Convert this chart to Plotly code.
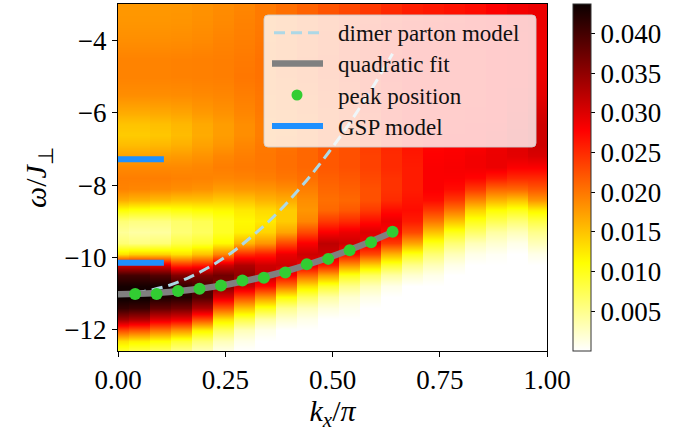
import plotly.graph_objects as go

# ---------------- data ----------------
omega_rows = [-12.6, -12.3, -12.0, -11.7, -11.4, -11.1, -10.8, -10.5, -10.2, -9.9,
              -9.6, -9.3, -9.0, -8.7, -8.4, -8.1, -7.8, -7.5, -7.2, -6.9,
              -6.6, -6.3, -6.0, -5.5, -5.0, -4.5, -4.0, -3.5, -3.0]

kx_columns = [0.0, 0.049, 0.098, 0.147, 0.196, 0.245, 0.294, 0.343, 0.392, 0.441,
              0.49, 0.539, 0.588, 0.637, 0.686, 0.735, 0.784, 0.833, 0.882, 0.931, 0.98]
column_half_width = 0.0245

# spectral weight per kx column, listed along omega_rows (bottom -> top)
col_00 = [0.009, 0.013, 0.023, 0.034, 0.041, 0.0437, 0.043, 0.040, 0.031, 0.013, 0.006, 0.0045, 0.006, 0.011, 0.0165, 0.0192, 0.0195, 0.0188, 0.0172, 0.0155, 0.0145, 0.015, 0.0165, 0.0185, 0.0192, 0.0192, 0.0185, 0.018, 0.0178]
col_01 = [0.008, 0.012, 0.022, 0.033, 0.0405, 0.0437, 0.043, 0.040, 0.031, 0.014, 0.0055, 0.004, 0.0055, 0.0105, 0.016, 0.019, 0.0195, 0.0188, 0.0172, 0.0155, 0.0145, 0.015, 0.0165, 0.0185, 0.0192, 0.0192, 0.0185, 0.018, 0.0178]
col_02 = [0.007, 0.011, 0.020, 0.030, 0.038, 0.0425, 0.043, 0.039, 0.030, 0.014, 0.006, 0.0042, 0.0055, 0.010, 0.0155, 0.0188, 0.0195, 0.0188, 0.0175, 0.0158, 0.0148, 0.0153, 0.0167, 0.0185, 0.0192, 0.0192, 0.0185, 0.018, 0.0178]
col_03 = [0.005, 0.009, 0.018, 0.029, 0.037, 0.042, 0.041, 0.036, 0.025, 0.013, 0.008, 0.006, 0.0065, 0.0105, 0.015, 0.0185, 0.0193, 0.0188, 0.0177, 0.0163, 0.0155, 0.0158, 0.017, 0.0186, 0.0193, 0.0193, 0.0186, 0.0181, 0.0179]
col_04 = [0.003, 0.006, 0.012, 0.023, 0.033, 0.039, 0.040, 0.036, 0.026, 0.015, 0.009, 0.007, 0.0075, 0.011, 0.015, 0.0182, 0.0192, 0.019, 0.0182, 0.0172, 0.0166, 0.0167, 0.0177, 0.0188, 0.0194, 0.0194, 0.0188, 0.0184, 0.0182]
col_05 = [0.001, 0.003, 0.007, 0.013, 0.022, 0.030, 0.036, 0.037, 0.031, 0.019, 0.0115, 0.0095, 0.0095, 0.0115, 0.0145, 0.0175, 0.019, 0.0195, 0.019, 0.018, 0.0175, 0.0175, 0.0182, 0.019, 0.0195, 0.0195, 0.0192, 0.0188, 0.0186]
col_06 = [0.0, 0.001, 0.003, 0.008, 0.015, 0.023, 0.031, 0.035, 0.033, 0.025, 0.016, 0.012, 0.0115, 0.0125, 0.015, 0.0178, 0.0192, 0.0198, 0.0195, 0.019, 0.0185, 0.0185, 0.019, 0.0195, 0.020, 0.0198, 0.0195, 0.0193, 0.019]
col_07 = [0.0, 0.0, 0.001, 0.004, 0.010, 0.018, 0.027, 0.032, 0.031, 0.026, 0.018, 0.014, 0.0125, 0.0135, 0.016, 0.018, 0.0195, 0.020, 0.020, 0.0198, 0.0195, 0.0195, 0.0198, 0.020, 0.0203, 0.0203, 0.020, 0.0198, 0.0198]
col_08 = [0.0, 0.0, 0.0, 0.002, 0.005, 0.011, 0.020, 0.028, 0.031, 0.029, 0.023, 0.017, 0.0145, 0.0145, 0.0165, 0.0185, 0.020, 0.0205, 0.0205, 0.0203, 0.020, 0.020, 0.0203, 0.0205, 0.021, 0.021, 0.0208, 0.0205, 0.0205]
col_09 = [0.0, 0.0, 0.0, 0.001, 0.003, 0.007, 0.013, 0.021, 0.029, 0.031, 0.028, 0.023, 0.019, 0.018, 0.0185, 0.0195, 0.0205, 0.021, 0.021, 0.021, 0.0208, 0.0208, 0.021, 0.0213, 0.0218, 0.022, 0.0218, 0.0215, 0.0213]
col_10 = [0.0, 0.0, 0.0, 0.0, 0.0015, 0.004, 0.009, 0.017, 0.026, 0.031, 0.032, 0.028, 0.024, 0.021, 0.0205, 0.021, 0.0215, 0.022, 0.022, 0.022, 0.022, 0.022, 0.0222, 0.0225, 0.023, 0.023, 0.0228, 0.0225, 0.0222]
col_11 = [0.0, 0.0, 0.0, 0.0, 0.0008, 0.002, 0.005, 0.010, 0.018, 0.027, 0.031, 0.029, 0.025, 0.022, 0.021, 0.0215, 0.022, 0.0225, 0.0225, 0.0225, 0.0228, 0.023, 0.0232, 0.0235, 0.024, 0.024, 0.024, 0.0235, 0.023]
col_12 = [0.0, 0.0, 0.0, 0.0, 0.0, 0.001, 0.003, 0.007, 0.014, 0.023, 0.029, 0.030, 0.027, 0.024, 0.0225, 0.0225, 0.023, 0.0235, 0.0235, 0.0238, 0.024, 0.0242, 0.0245, 0.0248, 0.025, 0.025, 0.025, 0.0245, 0.024]
col_13 = [0.0, 0.0, 0.0, 0.0, 0.0, 0.0, 0.001, 0.004, 0.009, 0.016, 0.024, 0.028, 0.029, 0.027, 0.025, 0.0245, 0.0245, 0.025, 0.025, 0.0252, 0.0255, 0.0258, 0.026, 0.026, 0.0262, 0.0262, 0.026, 0.0255, 0.025]
col_14 = [0.0, 0.0, 0.0, 0.0, 0.0, 0.0, 0.0, 0.002, 0.005, 0.010, 0.017, 0.023, 0.026, 0.027, 0.0265, 0.026, 0.026, 0.026, 0.0262, 0.0265, 0.0268, 0.027, 0.027, 0.027, 0.027, 0.027, 0.0268, 0.0262, 0.0258]
col_15 = [0.0, 0.0, 0.0, 0.0, 0.0, 0.0, 0.0, 0.001, 0.003, 0.006, 0.010, 0.015, 0.020, 0.024, 0.027, 0.028, 0.028, 0.028, 0.0278, 0.0275, 0.0272, 0.027, 0.027, 0.027, 0.027, 0.027, 0.0268, 0.0265, 0.0262]
col_16 = [0.0, 0.0, 0.0, 0.0, 0.0, 0.0, 0.0, 0.0, 0.001, 0.003, 0.006, 0.010, 0.015, 0.020, 0.024, 0.027, 0.028, 0.0282, 0.028, 0.0278, 0.0275, 0.0272, 0.027, 0.027, 0.027, 0.027, 0.027, 0.0268, 0.0266]
col_17 = [0.0, 0.0, 0.0, 0.0, 0.0, 0.0, 0.0, 0.0, 0.0, 0.001, 0.003, 0.0065, 0.010, 0.014, 0.019, 0.024, 0.0275, 0.0285, 0.0285, 0.028, 0.0278, 0.0275, 0.0272, 0.027, 0.027, 0.027, 0.0272, 0.0272, 0.027]
col_18 = [0.0, 0.0, 0.0, 0.0, 0.0, 0.0, 0.0, 0.0, 0.0, 0.0005, 0.002, 0.004, 0.0075, 0.011, 0.016, 0.021, 0.026, 0.029, 0.029, 0.0288, 0.0285, 0.028, 0.0278, 0.0275, 0.0275, 0.0275, 0.0277, 0.0278, 0.0278]
col_19 = [0.0, 0.0, 0.0, 0.0, 0.0, 0.0, 0.0, 0.0, 0.0, 0.0, 0.001, 0.003, 0.006, 0.010, 0.015, 0.021, 0.025, 0.028, 0.0295, 0.0298, 0.0298, 0.0295, 0.029, 0.0285, 0.028, 0.028, 0.0282, 0.0284, 0.0285]
col_20 = [0.0, 0.0, 0.0, 0.0, 0.0, 0.0, 0.0, 0.0, 0.0, 0.001, 0.003, 0.005, 0.008, 0.012, 0.018, 0.022, 0.025, 0.028, 0.0302, 0.031, 0.031, 0.031, 0.0305, 0.0295, 0.029, 0.0288, 0.0288, 0.029, 0.029]

spectral_columns = [col_00, col_01, col_02, col_03, col_04, col_05, col_06, col_07, col_08, col_09,
                    col_10, col_11, col_12, col_13, col_14, col_15, col_16, col_17, col_18, col_19, col_20]

# dimer parton model (dashed curve)
dimer_k = [0.0, 0.06, 0.12, 0.17, 0.225, 0.27, 0.31, 0.35, 0.39, 0.42, 0.45, 0.49, 0.54, 0.59, 0.64]
dimer_w = [-11.0, -10.94, -10.77, -10.53, -10.18, -9.82, -9.44, -9.02, -8.54, -8.14, -7.72, -7.11, -6.28, -5.36, -4.36]

# quadratic fit (grey curve)
fit_k = [0.0, 0.08, 0.16, 0.24, 0.32, 0.40, 0.48, 0.56, 0.64]
fit_w = [-11.02, -10.99, -10.91, -10.78, -10.59, -10.35, -10.05, -9.70, -9.30]

# peak positions (green dots)
peak_k = [0.04, 0.09, 0.14, 0.19, 0.24, 0.29, 0.34, 0.39, 0.44, 0.49, 0.54, 0.59, 0.64]
peak_w = [-11.01, -11.01, -10.93, -10.87, -10.78, -10.64, -10.56, -10.42, -10.19, -10.04, -9.80, -9.58, -9.29]

# GSP model levels
gsp_k = [0.0, 0.107]
gsp_levels = [-7.28, -10.15]

cbar_ticks = [0.005, 0.010, 0.015, 0.020, 0.025, 0.030, 0.035, 0.040]
z_min, z_max = 0.0, 0.0437

# ---------------- build figure ----------------
eps = 1e-4
hx, hz_cols = [], []
for k, col in zip(kx_columns, spectral_columns):
    hx += [k - column_half_width + eps, k + column_half_width - eps]
    hz_cols += [col, col]
hz = [[c[i] for c in hz_cols] for i in range(len(omega_rows))]

hot_r = [[0.0, "rgb(255,255,255)"], [0.253968, "rgb(255,255,0)"],
         [0.634921, "rgb(255,0,0)"], [1.0, "rgb(11,0,0)"]]

FONT = "Liberation Serif"
TICK_SIZE = 27

fig = go.Figure()
fig.add_trace(go.Heatmap(
    x=hx, y=omega_rows, z=hz, zsmooth="best", colorscale=hot_r,
    zmin=z_min, zmax=z_max, showscale=True, hoverinfo="skip",
    colorbar=dict(x=1.0613, xanchor="left", xpad=0, ypad=0, y=0.5, yanchor="middle",
                  len=1.0, lenmode="fraction", thickness=18,
                  outlinewidth=1, outlinecolor="#333333",
                  tickmode="array", tickvals=cbar_ticks, tickformat=".3f",
                  ticks="outside", ticklen=4, tickwidth=1, tickcolor="black",
                  tickfont=dict(family=FONT, size=TICK_SIZE, color="black")),
))

fig.add_trace(go.Scatter(x=dimer_k, y=dimer_w, mode="lines", line_shape="spline",
                         line=dict(color="#ADD8E6", width=3, dash="11px,6px"),
                         showlegend=False, hoverinfo="skip"))
fig.add_trace(go.Scatter(x=fit_k, y=fit_w, mode="lines", line_shape="spline",
                         line=dict(color="#808080", width=6.5),
                         showlegend=False, hoverinfo="skip"))
fig.add_trace(go.Scatter(x=peak_k, y=peak_w, mode="markers",
                         marker=dict(color="#32CD32", size=12, line=dict(width=0)),
                         showlegend=False, hoverinfo="skip"))
for lvl in gsp_levels:
    fig.add_trace(go.Scatter(x=gsp_k, y=[lvl, lvl], mode="lines",
                             line=dict(color="#1E90FF", width=6),
                             showlegend=False, hoverinfo="skip"))

# ---------------- manual legend (matplotlib style) ----------------
W_PLOT, H_PLOT, L, T = 429.0, 347.0, 118.0, 4.0
def px(xp):
    return (xp - L) / W_PLOT
def py(yp):
    return 1 - (yp - T) / H_PLOT

bx0, bx1, by0, by1 = px(264), px(536), py(147), py(15)
rx, ry = 4 / W_PLOT, 4 / H_PLOT
box_path = (f"M {bx0+rx},{by0} L {bx1-rx},{by0} Q {bx1},{by0} {bx1},{by0+ry} "
            f"L {bx1},{by1-ry} Q {bx1},{by1} {bx1-rx},{by1} L {bx0+rx},{by1} "
            f"Q {bx0},{by1} {bx0},{by1-ry} L {bx0},{by0+ry} Q {bx0},{by0} {bx0+rx},{by0} Z")
shapes = [dict(type="path", path=box_path, xref="paper", yref="paper", layer="above",
               fillcolor="rgba(255,255,255,0.8)", line=dict(color="rgba(204,204,204,0.9)", width=1))]

entry_y = [32.7, 63.5, 95.0, 126.0]
labels = ["dimer parton model", "quadratic fit", "peak position", "GSP model"]
shapes.append(dict(type="line", xref="paper", yref="paper", layer="above",
                   x0=px(274), x1=px(320), y0=py(entry_y[0]), y1=py(entry_y[0]),
                   line=dict(color="#ADD8E6", width=3, dash="11px,6px")))
shapes.append(dict(type="line", xref="paper", yref="paper", layer="above",
                   x0=px(272), x1=px(323), y0=py(entry_y[1]), y1=py(entry_y[1]),
                   line=dict(color="#808080", width=6.5)))
shapes.append(dict(type="circle", xref="paper", yref="paper", layer="above",
                   x0=px(297 - 5.5), x1=px(297 + 5.5), y0=py(entry_y[2] + 5.5), y1=py(entry_y[2] - 5.5),
                   fillcolor="#32CD32", line=dict(width=0)))
shapes.append(dict(type="line", xref="paper", yref="paper", layer="above",
                   x0=px(272), x1=px(323), y0=py(entry_y[3]), y1=py(entry_y[3]),
                   line=dict(color="#1E90FF", width=6)))

annotations = []
for lab, yy in zip(labels, entry_y):
    annotations.append(dict(text=lab, xref="paper", yref="paper", x=px(336), y=py(yy + 1),
                            xanchor="left", yanchor="middle", showarrow=False,
                            font=dict(family=FONT, size=23, color="#111111")))

axis_common = dict(showgrid=False, zeroline=False, showline=True, linecolor="black", linewidth=1,
                   mirror=True, ticks="outside", ticklen=5, tickwidth=1, tickcolor="black",
                   tickfont=dict(family=FONT, size=TICK_SIZE, color="black"))

fig.update_layout(
    width=673, height=432,
    margin=dict(l=118, r=126, t=4, b=81, autoexpand=False),
    paper_bgcolor="white", plot_bgcolor="white",
    showlegend=False,
    xaxis=dict(range=[0, 1], tickvals=[0, 0.25, 0.5, 0.75, 1.0], tickformat=".2f",
               title=dict(text="<i>k</i><sub><i>x</i></sub>/<i>π</i>", standoff=2,
                          font=dict(family=FONT, size=30, color="black")),
               **axis_common),
    yaxis=dict(range=[-12.59, -2.985], tickvals=[-12, -10, -8, -6, -4],
               title=dict(text="<i>ω</i>/<i>J</i><sub>⊥</sub>", standoff=8,
                          font=dict(family=FONT, size=30, color="black")),
               **axis_common),
    shapes=shapes, annotations=annotations,
)

fig.write_html("out.html", config={"displayModeBar": False},
               post_script="document.body.style.margin='0px';document.body.style.overflow='hidden';")
